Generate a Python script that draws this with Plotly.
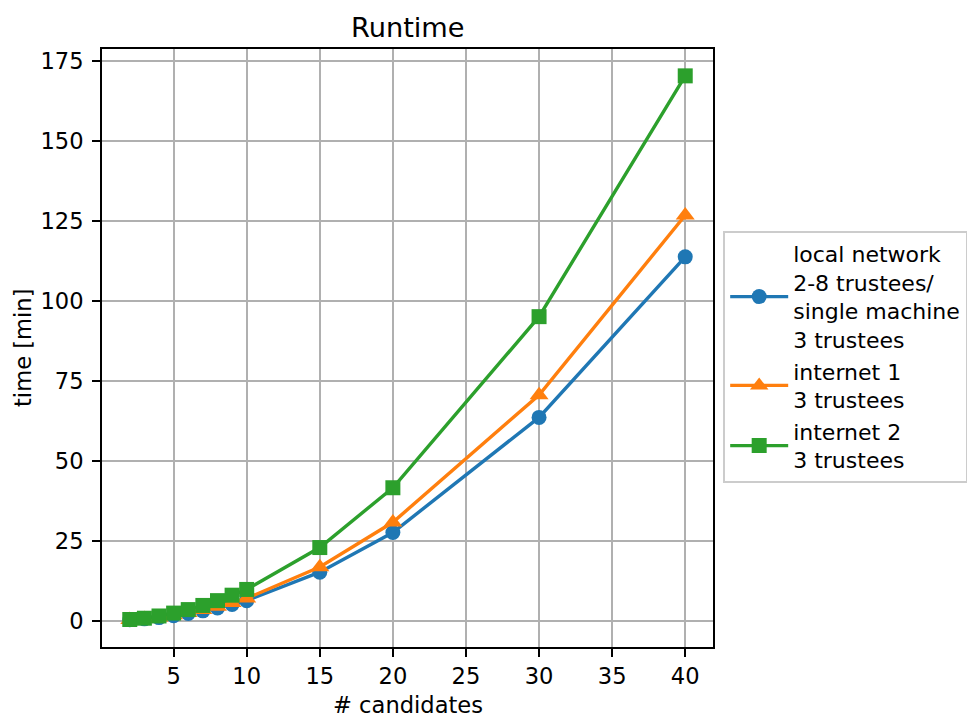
import plotly.graph_objects as go

candidates = [2, 3, 4, 5, 6, 7, 8, 9, 10, 15, 20, 30, 40]
local_network = [0.3, 0.6, 1.0, 1.6, 2.3, 3.1, 4.0, 5.1, 6.3, 15.2, 27.6, 63.6, 113.8]
internet1 = [0.3, 0.6, 1.1, 1.8, 2.5, 3.4, 4.4, 5.6, 7.0, 16.8, 30.8, 70.6, 126.8]
internet2 = [0.4, 0.8, 1.5, 2.4, 3.5, 4.8, 6.3, 8.0, 9.8, 22.9, 41.6, 95.1, 170.4]

names = [
    "local network<br>2-8 trustees/<br>single machine<br>3 trustees",
    "internet 1<br>3 trustees",
    "internet 2<br>3 trustees",
]
colors = ["#1f77b4", "#ff7f0e", "#2ca02c"]
symbols = ["circle", "triangle-up", "square"]
sizes = [15, 16.5, 15]
xticks = [5, 10, 15, 20, 25, 30, 35, 40]
yticks = [0, 25, 50, 75, 100, 125, 150, 175]

FONT = "DejaVu Sans"
FS = 22.6

fig = go.Figure()
for ys, name, c, s, sz in zip([local_network, internet1, internet2], names, colors, symbols, sizes):
    fig.add_trace(go.Scatter(
        x=candidates, y=ys, name=name, mode="lines+markers",
        line=dict(color=c, width=3.4),
        marker=dict(symbol=s, size=sz, color=c, line=dict(width=0)),
    ))

axis_common = dict(
    showline=True, linecolor="black", linewidth=1.8, mirror=True,
    showgrid=True, gridcolor="#b0b0b0", gridwidth=1.8,
    ticks="outside", ticklen=8, tickwidth=1.8, tickcolor="black",
    zeroline=False, tickfont=dict(family=FONT, size=FS, color="black"),
)

fig.update_layout(
    width=975, height=719,
    margin=dict(l=102, r=262, t=49, b=72, autoexpand=False),
    paper_bgcolor="white", plot_bgcolor="white",
    font=dict(family=FONT, size=FS, color="black"),
    showlegend=True,
    legend=dict(
        x=1.017, xanchor="left", y=0.6955, yanchor="top",
        bgcolor="white", bordercolor="#cccccc", borderwidth=1.8,
        font=dict(family=FONT, size=22, color="black"),
        itemwidth=58,
        tracegroupgap=0,
    ),
    xaxis=dict(range=[0.1, 41.9], tickvals=xticks, ticklabelstandoff=0, **axis_common),
    yaxis=dict(range=[-8.2, 178.8], tickvals=yticks, ticklabelstandoff=4, **axis_common),
    annotations=[
        dict(text="Runtime", xref="paper", yref="paper", x=0.5, y=1,
             xanchor="center", yanchor="middle", yshift=22, showarrow=False,
             font=dict(family=FONT, size=27.2, color="black")),
        dict(text="# candidates", xref="paper", yref="paper", x=0.5, y=0,
             xanchor="center", yanchor="middle", yshift=-58, showarrow=False,
             font=dict(family=FONT, size=FS, color="black")),
        dict(text="time [min]", xref="paper", yref="paper", x=0, y=0.5,
             xanchor="center", yanchor="middle", xshift=-79, textangle=-90,
             showarrow=False, font=dict(family=FONT, size=FS, color="black")),
    ],
)

fig.write_html(
    "out.html",
    config={"displayModeBar": False},
    post_script="document.body.style.margin='0';document.body.style.overflow='hidden';",
)
